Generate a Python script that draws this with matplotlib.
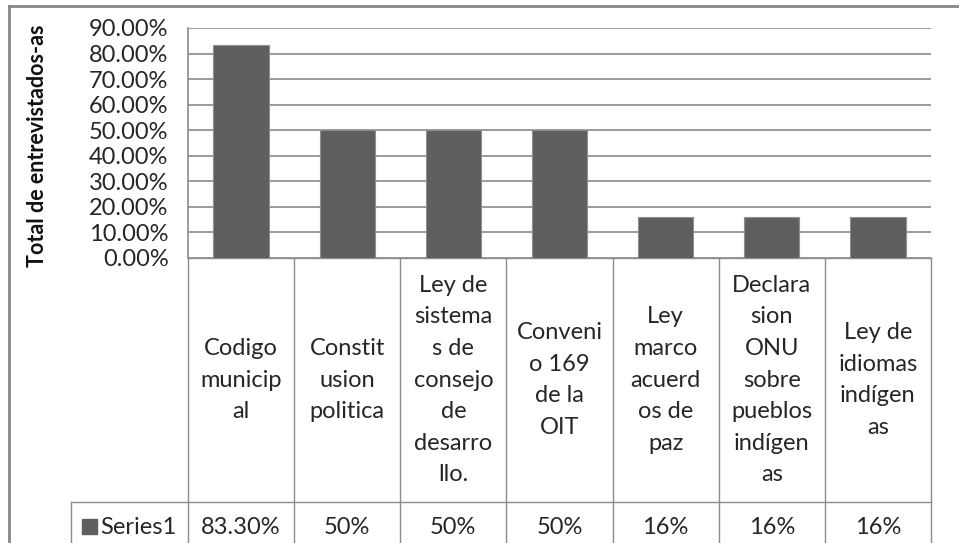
import matplotlib
matplotlib.use("Agg")
import matplotlib.pyplot as plt
from matplotlib.lines import Line2D
from matplotlib.patches import Rectangle
import matplotlib.transforms as mtransforms

categories = ["Codigo\nmunicip\nal", "Constit\nusion\npolitica",
              "Ley de\nsistema\ns de\nconsejo\nde\ndesarro\nllo.",
              "Conveni\no 169\nde la\nOIT", "Ley\nmarco\nacuerd\nos de\npaz",
              "Declara\nsion\nONU\nsobre\npueblos\nindígen\nas",
              "Ley de\nidiomas\nindígen\nas"]
values = [0.833, 0.50, 0.50, 0.50, 0.16, 0.16, 0.16]
value_labels = ["83.30%", "50%", "50%", "50%", "16%", "16%", "16%"]
yticks = [0.0, 0.1, 0.2, 0.3, 0.4, 0.5, 0.6, 0.7, 0.8, 0.9]
series_name = "Series1"
ylabel = "Total de entrevistados-as"

plt.rcParams['font.family'] = ['Lato', 'DejaVu Sans']
fs = 17
txt_color = '#262626'
bar_color = '#5f5f5f'
line_color = '#8c8c8c'
grid_color = '#8a8a8a'

W, H = 959, 543
fig = plt.figure(figsize=(W / 100, H / 100), dpi=100)

# plot area in pixels: x 188..931, y 28..258
ax = fig.add_axes([188 / W, (H - 258) / H, (931 - 188) / W, (258 - 28) / H])
x = list(range(len(values)))
ax.bar(x, values, width=0.52, color=bar_color, edgecolor='#8f8f8f', linewidth=0.8, zorder=3)
ax.set_xlim(-0.5, len(values) - 0.5)
ax.set_ylim(0, 0.9)
ax.set_yticks(yticks)
ax.set_yticklabels(["%.2f%%" % (v * 100) for v in yticks], fontsize=fs, color=txt_color)
ax.tick_params(axis='y', length=0, pad=14)
ax.set_xticks([])
ax.yaxis.grid(True, color=grid_color, linewidth=1.2, zorder=0)
for s in ['top', 'right', 'bottom']:
    ax.spines[s].set_visible(False)
ax.spines['left'].set_color(line_color)
ax.spines['left'].set_linewidth(1.2)
ax.text((38 - 188) / 743, (258 - 146) / 230, ylabel, transform=ax.transAxes, rotation=90,
        ha='center', va='center', fontsize=15.5, fontweight='bold', color='#111111')

# data table under the plot
tr = mtransforms.blended_transform_factory(ax.transData, ax.transAxes)
row_sep = -1.061
bottom = -1.4
lw = 1.0
n = len(values)
for k in range(n + 1):
    ax.add_line(Line2D([k - 0.5, k - 0.5], [0, bottom], transform=tr, color=line_color,
                       linewidth=lw, clip_on=False))
ax.add_line(Line2D([-0.5, n - 0.5], [0, 0], transform=tr, color=line_color, linewidth=lw, clip_on=False))
ax.add_line(Line2D([-1.6, n - 0.5], [row_sep, row_sep], transform=tr, color=line_color,
                   linewidth=lw, clip_on=False))
ax.add_line(Line2D([-1.6, -1.6], [row_sep, bottom], transform=tr, color=line_color,
                   linewidth=lw, clip_on=False))

for k, (c, v) in enumerate(zip(categories, value_labels)):
    ax.text(k, row_sep / 2, c, transform=tr, ha='center', va='center', fontsize=fs,
            linespacing=1.62, color=txt_color)
    ax.text(k, -1.17, v, transform=tr, ha='center', va='center', fontsize=fs, color=txt_color)

ax.add_patch(Rectangle((-1.5, -1.2), 0.14, 0.065, transform=tr, color=bar_color, clip_on=False))
ax.text(-1.33, -1.17, series_name, transform=tr, ha='left', va='center', fontsize=fs, color=txt_color)

# chart area frame (top and left edges visible)
fig.add_artist(Line2D([9 / W, 1], [1 - 6 / H, 1 - 6 / H], transform=fig.transFigure,
                      color='#878787', linewidth=2))
fig.add_artist(Line2D([9 / W, 9 / W], [0, 1 - 6 / H], transform=fig.transFigure,
                      color='#878787', linewidth=2))

fig.savefig("out.png", dpi=100)
